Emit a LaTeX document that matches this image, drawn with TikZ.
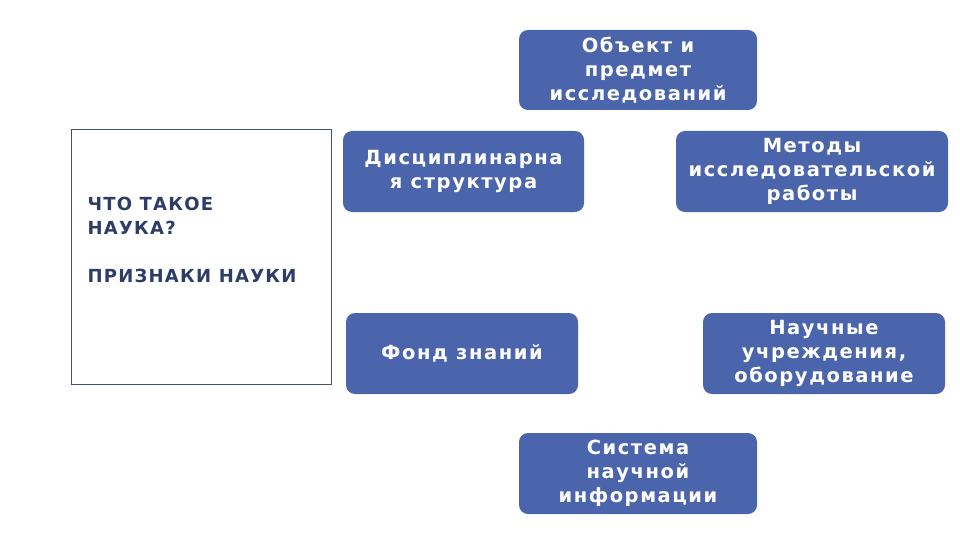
\documentclass[tikz,border=0pt]{standalone}
\usepackage{fontspec}
\setmainfont{DejaVu Sans}
\newfontfamily\signfont[LetterSpace=8]{DejaVu Sans}
\newfontfamily\titlefont[LetterSpace=7]{DejaVu Sans}
\definecolor{boxblue}{HTML}{4A65AB}
\definecolor{navy}{HTML}{2E3D66}
\definecolor{framegray}{HTML}{44526E}
\tikzset{
  sign/.style={rectangle, rounded corners=9pt, fill=boxblue, text=white,
    font=\signfont\fontsize{19.5}{24}\selectfont\bfseries, align=center,
    minimum height=81pt, inner sep=0pt},
}
\begin{document}
\begin{tikzpicture}[x=1pt, y=-1pt]
                \useasboundingbox (0,0) rectangle (960,540);

                \coordinate (A) at (71, 129);
                \coordinate (B) at (331, 384);

                \draw[framegray, line width=0.8pt] (A) rectangle (B);

                \node[anchor=north west, align=left, text=navy,
                  font=\titlefont\fontsize{18}{24}\selectfont\bfseries] (question) at (84, 194)
                  {ЧТО ТАКОЕ\\НАУКА?\\[24pt]ПРИЗНАКИ НАУКИ};

                \node[sign, minimum width=238pt, minimum height=80pt] (object) at (638, 70)
                  {Объект и\\предмет\\исследований};
                \node[sign, minimum width=241pt] (discipline) at (463.5, 171.5)
                  {Дисциплинарна\\я структура};
                \node[sign, minimum width=272pt] (methods) at (812, 171.5)
                  {Методы\\исследовательской\\работы};
                \node[sign, minimum width=232pt] (fund) at (462, 353.5)
                  {Фонд знаний};
                \node[sign, minimum width=242pt] (institutions) at (824, 353.5)
                  {Научные\\учреждения,\\оборудование};
                \node[sign, minimum width=238pt] (information) at (638, 473.5)
                  {Система\\научной\\информации};
            \end{tikzpicture}
\end{document}
